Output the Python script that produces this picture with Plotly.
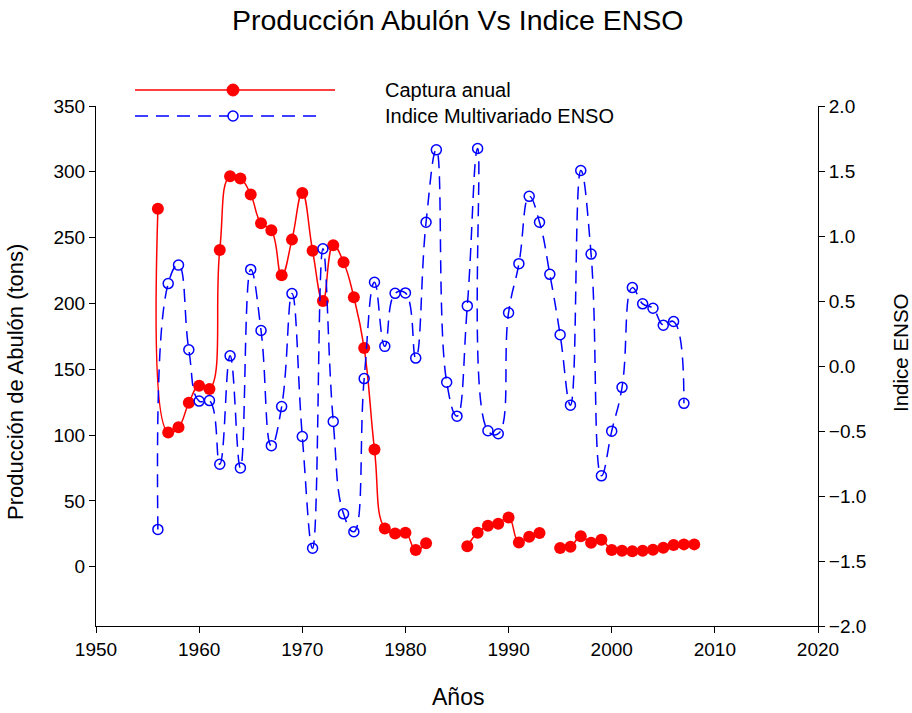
import plotly.graph_objects as go

years_catch = list(range(1956, 2009))
catch = [272, 102, 106, 124.5, 137.5, 135, 240.7, 296.7, 295, 282.8,
         261, 255.7, 221.4, 248.5, 284, 240, 201.9, 244.2, 231.3, 204.7,
         166.1, 89, 29.1, 25.3, 25.9, 12.7, 17.8, None, None, None,
         15.5, 25.9, 31.2, 32.7, 37.5, 18.5, 22.8, 25.6, None, 14.2,
         15.2, 23.1, 18.3, 20.5, 12.7, 12.2, 11.7, 12.2, 12.9, 14.5,
         16.5, 17, 17]

years_enso = list(range(1956, 2008))
enso = [-1.257, 0.634, 0.776, 0.125, -0.27, -0.266, -0.756, 0.078, -0.784, 0.743,
        0.273, -0.613, -0.312, 0.557, -0.542, -1.402, 0.902, -0.427, -1.137, -1.275,
        -0.097, 0.644, 0.151, 0.559, 0.562, 0.061, 1.106, 1.663, -0.125, -0.386,
        0.462, 1.673, -0.498, -0.521, 0.41, 0.787, 1.305, 1.106, 0.705, 0.24,
        -0.301, 1.504, 0.861, -0.845, -0.501, -0.164, 0.603, 0.478, 0.444, 0.314,
        0.342, -0.287]

FONT = "Liberation Sans, Arial, sans-serif"
W, H = 912, 713
L, R, T, B = 96, 94, 106, 87
PW, PH = W - L - R, H - T - B

def px(x):
    return (x - L) / PW

def py(y):
    return (H - B - y) / PH

fig = go.Figure()
fig.add_trace(go.Scatter(
    x=years_catch, y=catch, mode="lines+markers", name="Captura anual",
    line=dict(color="#ff0000", width=1.5, shape="spline", smoothing=1.3),
    marker=dict(color="#ff0000", size=12, symbol="circle"),
    connectgaps=False, showlegend=False, yaxis="y"))
fig.add_trace(go.Scatter(
    x=years_enso, y=enso, mode="lines+markers", name="Indice Multivariado ENSO",
    line=dict(color="#0000ff", width=1.5, shape="spline", smoothing=1.3, dash="13px,8px"),
    marker=dict(color="#0000ff", size=10, symbol="circle-open", line=dict(width=1.5)),
    showlegend=False, yaxis="y2"))

axis_common = dict(showgrid=False, zeroline=False, showline=True, linecolor="black",
                   linewidth=1, ticks="outside", ticklen=6, tickcolor="black",
                   tickfont=dict(family=FONT, size=19, color="black"))

fig.update_layout(
    width=W, height=H, autosize=False,
    paper_bgcolor="white", plot_bgcolor="white",
    margin=dict(l=L, r=R, t=T, b=B),
    xaxis=dict(range=[1950, 2020], tickmode="linear", tick0=1950, dtick=10, **axis_common),
    yaxis=dict(range=[-45, 350], tickvals=[0, 50, 100, 150, 200, 250, 300, 350], **axis_common),
    yaxis2=dict(range=[-2, 2], overlaying="y", side="right", tickmode="linear", tick0=-2,
                dtick=0.5, tickformat=".1f", **axis_common),
)

# Legend drawn manually (long sample lines as in the reference)
shapes = [
    dict(type="line", xref="paper", yref="paper", x0=px(135), x1=px(335), y0=py(90), y1=py(90),
         line=dict(color="#ff0000", width=1.5)),
    dict(type="line", xref="paper", yref="paper", x0=px(135), x1=px(320), y0=py(116), y1=py(116),
         line=dict(color="#0000ff", width=1.5, dash="13px,8px")),
    dict(type="circle", xref="paper", yref="paper", x0=px(233 - 6), x1=px(233 + 6),
         y0=py(90 + 6), y1=py(90 - 6), fillcolor="#ff0000", line=dict(color="#ff0000", width=1)),
    dict(type="circle", xref="paper", yref="paper", x0=px(233 - 5), x1=px(233 + 5),
         y0=py(116 + 5), y1=py(116 - 5), fillcolor="white", line=dict(color="#0000ff", width=1.5)),
]
fig.update_layout(shapes=shapes)

ann = [
    dict(text="Captura anual", x=px(383), y=py(90)),
    dict(text="Indice Multivariado ENSO", x=px(383), y=py(116)),
]
annotations = []
for a in ann:
    annotations.append(dict(text=a["text"], x=a["x"], y=a["y"], xref="paper", yref="paper",
                            xanchor="left", yanchor="middle", showarrow=False,
                            font=dict(family=FONT, size=20, color="black")))
annotations += [
    dict(text="Producción Abulón Vs Indice ENSO", x=px(457.5), y=py(20), xref="paper", yref="paper",
         xanchor="center", yanchor="middle", showarrow=False,
         font=dict(family=FONT, size=28.5, color="black")),
    dict(text="Producción de Abulón (tons)", x=px(15), y=py(382), xref="paper", yref="paper",
         xanchor="center", yanchor="middle", textangle=-90, showarrow=False,
         font=dict(family=FONT, size=22, color="black")),
    dict(text="Indice ENSO", x=px(900), y=py(353), xref="paper", yref="paper",
         xanchor="center", yanchor="middle", textangle=-90, showarrow=False,
         font=dict(family=FONT, size=20.5, color="black")),
    dict(text="Años", x=px(457.5), y=py(697), xref="paper", yref="paper",
         xanchor="center", yanchor="middle", showarrow=False,
         font=dict(family=FONT, size=23, color="black")),
]
fig.update_layout(annotations=annotations)

fig.write_html("out.html")
